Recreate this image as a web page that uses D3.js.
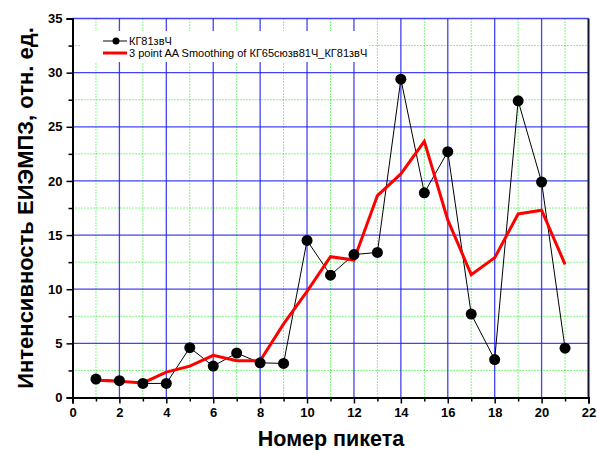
<!DOCTYPE html>
<html>
<head>
<meta charset="utf-8">
<script src="https://cdn.jsdelivr.net/npm/d3@7"></script>
<style>
  body { margin: 0; background: #fff; }
  text { font-family: "Liberation Sans", Arial, sans-serif; }
</style>
</head>
<body>
<svg id="mysvg" width="597" height="450"></svg>
<script>
// picket numbers
var pickets = [1, 2, 3, 4, 5, 6, 7, 8, 9, 10, 11, 12, 13, 14, 15, 16, 17, 18, 19, 20, 21];
// КГ81звЧ
var rawValues = [1.7, 1.55, 1.3, 1.3, 4.6, 2.9, 4.1, 3.2, 3.15, 14.5, 11.3, 13.2, 13.4, 29.4, 18.9, 22.7, 7.7, 3.5, 27.4, 19.9, 4.55];
// 3 point AA smoothing
var smoothValues = [1.6, 1.5, 1.35, 2.35, 2.9, 3.9, 3.4, 3.4, 6.8, 9.8, 13.0, 12.7, 18.65, 20.65, 23.65, 16.4, 11.35, 12.9, 16.95, 17.3, 12.3];

var xTicks = [0, 2, 4, 6, 8, 10, 12, 14, 16, 18, 20, 22];
var yTicks = [0, 5, 10, 15, 20, 25, 30, 35];
var legendLabels = ["КГ81звЧ", "3 point AA Smoothing of КГ65сюзв81Ч_КГ81звЧ"];

var svg = d3.select("#mysvg");
// note: "top" is taken by window.top, so use other names
var pLeft = 72.5, pRight = 588.5, pTop = 18.5, pBottom = 397.5;

var x = d3.scaleLinear().domain([0, 22]).range([pLeft, pRight]);
var y = d3.scaleLinear().domain([0, 35]).range([pBottom, pTop]);

// minor grid (green dotted)
var minorX = d3.range(1, 22, 2);
var minorY = d3.range(2.5, 35, 5);
svg.append("g").selectAll("line").data(minorX).enter().append("line")
    .attr("x1", function(d) { return x(d); }).attr("x2", function(d) { return x(d); })
    .attr("y1", pTop).attr("y2", pBottom)
    .attr("stroke", "#00ee00").attr("stroke-width", 1).attr("stroke-dasharray", "1,2");
svg.append("g").selectAll("line").data(minorY).enter().append("line")
    .attr("x1", pLeft).attr("x2", pRight)
    .attr("y1", function(d) { return y(d); }).attr("y2", function(d) { return y(d); })
    .attr("stroke", "#00ee00").attr("stroke-width", 1).attr("stroke-dasharray", "1,2");

// major grid (blue)
svg.append("g").selectAll("line").data(xTicks.slice(1, -1)).enter().append("line")
    .attr("x1", function(d) { return x(d); }).attr("x2", function(d) { return x(d); })
    .attr("y1", pTop).attr("y2", pBottom)
    .attr("stroke", "#2222ee").attr("stroke-width", 1.3).attr("stroke-opacity", 0.85);
svg.append("g").selectAll("line").data(yTicks.slice(1)).enter().append("line")
    .attr("x1", pLeft).attr("x2", pRight)
    .attr("y1", function(d) { return y(d); }).attr("y2", function(d) { return y(d); })
    .attr("stroke", "#2222ee").attr("stroke-width", 1.3).attr("stroke-opacity", 0.85);

// right frame line
svg.append("line")
    .attr("x1", pRight).attr("x2", pRight).attr("y1", pTop).attr("y2", pBottom)
    .attr("stroke", "#111133").attr("stroke-width", 2);

// axes
svg.append("g").attr("transform", "translate(0," + pBottom + ")")
    .call(d3.axisBottom(x).tickValues(xTicks).tickSize(6).tickPadding(4).tickFormat(d3.format("d")));
svg.append("g").attr("transform", "translate(0," + pBottom + ")")
    .call(d3.axisBottom(x).tickValues(minorX).tickSize(4).tickFormat(""))
    .select(".domain").remove();
svg.append("g").attr("transform", "translate(" + pLeft + ",0)")
    .call(d3.axisLeft(y).tickValues(yTicks).tickSize(6).tickPadding(4).tickFormat(d3.format("d")));
svg.append("g").attr("transform", "translate(" + pLeft + ",0)")
    .call(d3.axisLeft(y).tickValues(minorY).tickSize(4).tickFormat(""))
    .select(".domain").remove();

svg.selectAll(".domain").attr("stroke", "#000").attr("stroke-width", 2);
svg.selectAll(".tick line").attr("stroke", "#000").attr("stroke-width", 1.5);
svg.selectAll(".tick text")
    .attr("font-family", "Liberation Sans, Arial, sans-serif")
    .attr("font-size", 13).attr("font-weight", "bold").attr("fill", "#000");

// axis titles
svg.append("text")
    .attr("x", 331).attr("y", 446)
    .attr("text-anchor", "middle")
    .attr("font-size", 21.5).attr("font-weight", "bold")
    .text("Номер пикета");
svg.append("text")
    .attr("transform", "translate(33," + ((pTop + pBottom) / 2) + ") rotate(-90)")
    .attr("text-anchor", "middle")
    .attr("font-size", 22).attr("font-weight", "bold")
    .text("Интенсивность ЕИЭМПЗ, отн. ед.");

// data lines
var line = d3.line()
    .x(function(d) { return x(d[0]); })
    .y(function(d) { return y(d[1]); });

var rawData = pickets.map(function(p, i) { return [p, rawValues[i]]; });
var smoothData = pickets.map(function(p, i) { return [p, smoothValues[i]]; });

svg.append("path").datum(rawData)
    .attr("d", line).attr("fill", "none")
    .attr("stroke", "#000").attr("stroke-width", 1);

svg.append("path").datum(smoothData)
    .attr("d", line).attr("fill", "none")
    .attr("stroke", "#ff0000").attr("stroke-width", 3).attr("stroke-linejoin", "miter");

svg.append("g").selectAll("circle").data(rawData).enter().append("circle")
    .attr("cx", function(d) { return x(d[0]); })
    .attr("cy", function(d) { return y(d[1]); })
    .attr("r", 5.5).attr("fill", "#000");

// legend
var legend = svg.append("g");
legend.append("rect")
    .attr("x", 80).attr("y", 31).attr("width", 288).attr("height", 31)
    .attr("fill", "#fff");
legend.append("line")
    .attr("x1", 103).attr("x2", 127).attr("y1", 41).attr("y2", 41)
    .attr("stroke", "#333").attr("stroke-width", 1.2);
legend.append("circle").attr("cx", 116).attr("cy", 41).attr("r", 3.5).attr("fill", "#000");
legend.append("line")
    .attr("x1", 103).attr("x2", 127).attr("y1", 53).attr("y2", 53)
    .attr("stroke", "#ff0000").attr("stroke-width", 3);
legend.selectAll("text").data(legendLabels).enter().append("text")
    .attr("x", 129)
    .attr("y", function(d, i) { return 45 + i * 12; })
    .attr("font-size", 11)
    .text(function(d) { return d; });
</script>
</body>
</html>
